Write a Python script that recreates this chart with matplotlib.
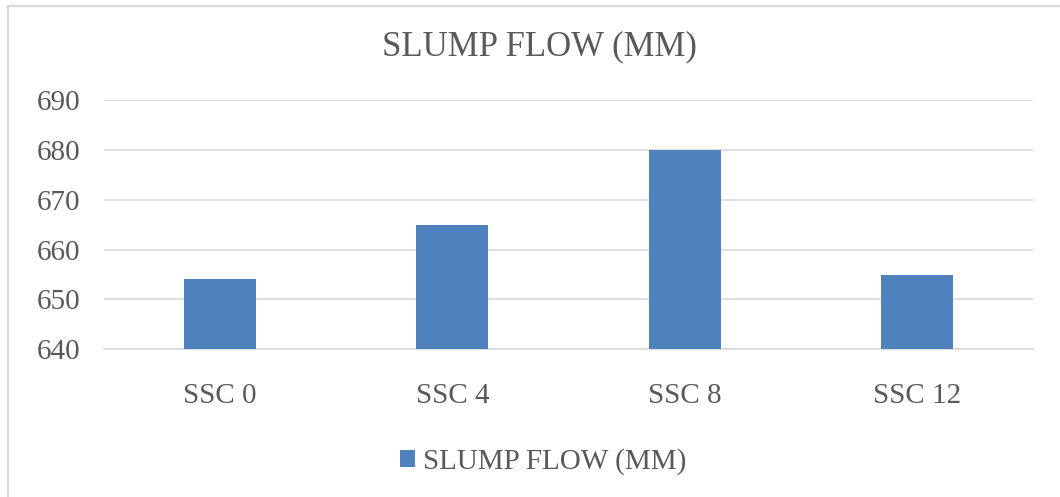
import matplotlib
matplotlib.use("Agg")
import matplotlib.pyplot as plt
from matplotlib.patches import Rectangle

categories = ["SSC 0", "SSC 4", "SSC 8", "SSC 12"]
slump_flow = [654, 665, 680, 655]
series_name = "SLUMP FLOW (MM)"
title = "SLUMP FLOW (MM)"
yticks = [640, 650, 660, 670, 680, 690]

W, H = 1060, 497
fig = plt.figure(figsize=(W / 100, H / 100), dpi=100)
plt.rcParams['font.family'] = ['Liberation Serif', 'DejaVu Serif']
text_color = "#595959"
grid_color = "#d9d9d9"
bar_color = "#4f81bd"

# chart border (cropped at right/bottom)
fig.patches.append(Rectangle((8 / W, -0.05), 1.2, 1 - 6 / H + 0.05,
                             transform=fig.transFigure, fill=False,
                             edgecolor=grid_color, linewidth=1.6))

ax = fig.add_axes([104 / W, 1 - 349.3 / H, (1033 - 104) / W, (349.3 - 100) / H])
x = range(len(categories))
bars = ax.bar(x, slump_flow, width=0.31, color=bar_color, label=series_name,
              zorder=3)
ax.set_ylim(640, 690)
ax.set_xlim(-0.5, len(categories) - 0.5)
ax.set_yticks(yticks)
ax.set_xticks(list(x))
ax.set_xticklabels(categories)
ax.grid(axis='y', color=grid_color, linewidth=1.2, zorder=0)
for s in ['top', 'right', 'left']:
    ax.spines[s].set_visible(False)
ax.spines['bottom'].set_color(grid_color)
ax.spines['bottom'].set_linewidth(1.2)
ax.tick_params(axis='both', length=0, labelsize=21, colors=text_color)
ax.tick_params(axis='y', pad=17)
ax.tick_params(axis='x', pad=24)

fig.text(539 / W, 1 - 47 / H, title, ha='center', va='center',
         fontsize=25, color=text_color)

leg = fig.legend(handles=[bars], labels=[series_name], loc='center',
                 bbox_to_anchor=(543 / W, 1 - 462 / H), frameon=False,
                 fontsize=21, handlelength=0.52, handleheight=0.52,
                 handletextpad=0.25, borderpad=0)
for t in leg.get_texts():
    t.set_color(text_color)

fig.savefig("out.png", dpi=100)
